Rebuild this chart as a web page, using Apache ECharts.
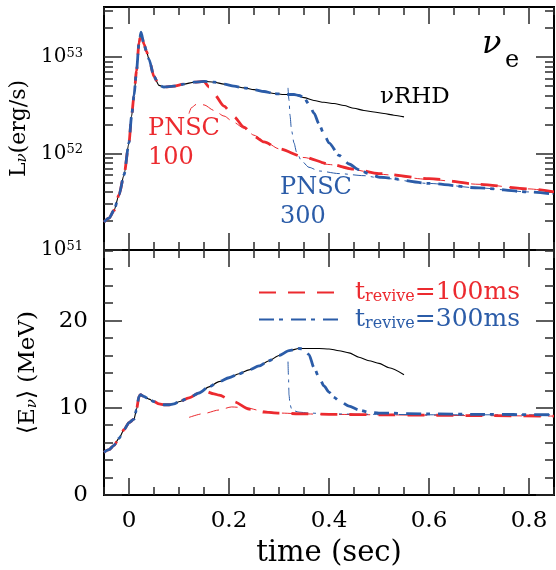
<!DOCTYPE html>
<html>
<head>
<meta charset="utf-8">
<script src="https://cdn.jsdelivr.net/npm/echarts@6/dist/echarts.min.js"></script>
<style>
  html, body { margin: 0; background: #fff; }
  #chart { width: 556px; height: 570px; }
</style>
</head>
<body>
<div id="chart"></div>
<script>
const RED = '#ec2a2f'
const BLUE = '#2b5ca8'
const serif = 'DejaVu Serif'

// axis ranges: top panel is log10(L), bottom panel is <E> in MeV
const LMIN = 51
const LMAX = 53.52
const EMIN = 0
const EMAX = 28.1

// tick / label values
const xLabels = [0, 0.2, 0.4, 0.6, 0.8]
const xMinor = [-0.05, 0, 0.05, 0.1, 0.15, 0.2, 0.25, 0.3, 0.35, 0.4, 0.45, 0.5, 0.55, 0.6, 0.65, 0.7, 0.75, 0.8, 0.85]
const lumDecades = [51, 52, 53]
const eLabels = [0, 10, 20]
const eMinor = [0, 2, 4, 6, 8, 10, 12, 14, 16, 18, 20, 22, 24, 26, 28]

// nuRHD luminosity (erg/s)
const tRhdL = [-0.05, -0.04, -0.03, -0.02, -0.01, 0, 0.005, 0.01, 0.015, 0.02, 0.024, 0.03, 0.035, 0.04, 0.05, 0.06, 0.07, 0.09, 0.11, 0.13, 0.15, 0.17, 0.19, 0.21, 0.23, 0.25, 0.27, 0.29, 0.31, 0.33, 0.35, 0.37, 0.39, 0.41, 0.43, 0.45, 0.47, 0.49, 0.51, 0.53, 0.55]
const lumRhd = [1.95e51, 2.14e51, 2.57e51, 3.72e51, 6.0e51, 1.3e52, 2.4e52, 4.0e52, 7.2e52, 1.4e53, 1.82e53, 1.36e53, 1.15e53, 9.5e52, 6.3e52, 5.1e52, 4.9e52, 5.0e52, 5.25e52, 5.5e52, 5.6e52, 5.5e52, 5.25e52, 5.0e52, 4.8e52, 4.6e52, 4.4e52, 4.2e52, 4.1e52, 4.1e52, 3.8e52, 3.55e52, 3.4e52, 3.3e52, 3.15e52, 2.95e52, 2.8e52, 2.7e52, 2.6e52, 2.5e52, 2.4e52]

// t_revive = 100 ms, after leaving nuRHD
const tR100L = [0.16, 0.17, 0.19, 0.21, 0.23, 0.25, 0.27, 0.30, 0.35, 0.40, 0.45, 0.50, 0.60, 0.70, 0.80, 0.85]
const lumR100 = [4.9e52, 4.15e52, 3.1e52, 2.4e52, 1.88e52, 1.51e52, 1.32e52, 1.12e52, 9.2e51, 7.8e51, 6.9e51, 6.2e51, 5.5e51, 4.8e51, 4.3e51, 4.0e51]
// PNSC 100
const tP100L = [0.12, 0.125, 0.135, 0.15, 0.17, 0.19, 0.21, 0.23, 0.25, 0.27, 0.30, 0.35, 0.40, 0.45, 0.50, 0.60, 0.70, 0.80, 0.85]
const lumP100 = [2.6e52, 3.0e52, 3.25e52, 3.2e52, 2.8e52, 2.45e52, 2.1e52, 1.83e52, 1.55e52, 1.35e52, 1.12e52, 9.1e51, 7.7e51, 6.8e51, 6.1e51, 5.4e51, 4.8e51, 4.3e51, 4.0e51]

// t_revive = 300 ms, after leaving nuRHD
const tR300L = [0.34, 0.35, 0.36, 0.37, 0.38, 0.39, 0.40, 0.42, 0.44, 0.46, 0.48, 0.50, 0.60, 0.70, 0.80, 0.85]
const lumR300 = [4.0e52, 3.8e52, 3.25e52, 2.63e52, 2.03e52, 1.59e52, 1.29e52, 9.6e51, 7.8e51, 6.8e51, 6.2e51, 5.7e51, 4.9e51, 4.4e51, 4.0e51, 3.8e51]
// PNSC 300
const tP300L = [0.318, 0.32, 0.322, 0.325, 0.33, 0.335, 0.345, 0.36, 0.38, 0.42, 0.47, 0.50, 0.60, 0.70, 0.80, 0.85]
const lumP300 = [4.8e52, 3.6e52, 2.5e52, 1.75e52, 1.29e52, 1.04e52, 8.4e51, 7.2e51, 6.6e51, 6.2e51, 5.9e51, 5.6e51, 4.9e51, 4.4e51, 4.0e51, 3.8e51]

// nuRHD mean energy (MeV)
const tRhdE = [-0.05, -0.04, -0.03, -0.02, -0.01, 0, 0.01, 0.015, 0.02, 0.023, 0.03, 0.04, 0.05, 0.06, 0.07, 0.08, 0.09, 0.10, 0.12, 0.14, 0.16, 0.18, 0.20, 0.22, 0.24, 0.26, 0.28, 0.30, 0.32, 0.34, 0.36, 0.38, 0.40, 0.42, 0.44, 0.46, 0.48, 0.50, 0.52, 0.55]
const eRhd = [4.9, 5.2, 5.7, 6.5, 7.5, 8.3, 8.7, 9.8, 11.3, 11.5, 11.3, 11.0, 10.7, 10.45, 10.35, 10.35, 10.45, 10.7, 11.15, 11.7, 12.4, 13.0, 13.45, 13.9, 14.35, 14.8, 15.4, 16.0, 16.55, 16.8, 16.8, 16.8, 16.75, 16.55, 16.3, 15.8, 15.4, 15.1, 14.6, 13.8]

const tR100E = [0.15, 0.17, 0.18, 0.21, 0.24, 0.27, 0.30, 0.35, 0.40, 0.50, 0.60, 0.70, 0.85]
const eR100 = [11.95, 11.6, 11.45, 10.7, 9.85, 9.5, 9.4, 9.3, 9.25, 9.2, 9.15, 9.1, 9.05]
const tP100E = [0.12, 0.15, 0.18, 0.205, 0.235, 0.265, 0.30, 0.35, 0.40, 0.50, 0.60, 0.70, 0.85]
const eP100 = [8.9, 9.35, 9.75, 10.1, 10.0, 9.65, 9.4, 9.3, 9.25, 9.2, 9.15, 9.1, 9.05]

const tR300E = [0.35, 0.36, 0.37, 0.38, 0.39, 0.40, 0.41, 0.42, 0.44, 0.46, 0.48, 0.50, 0.60, 0.70, 0.85]
const eR300 = [16.75, 16.1, 14.6, 13.5, 12.5, 11.8, 11.2, 10.8, 10.2, 9.75, 9.5, 9.4, 9.3, 9.25, 9.2]
const tP300E = [0.318, 0.319, 0.32, 0.322, 0.325, 0.33, 0.34, 0.36, 0.40, 0.50, 0.60, 0.85]
const eP300 = [15.3, 13.5, 11.5, 10.4, 9.9, 9.65, 9.5, 9.4, 9.3, 9.25, 9.2, 9.2]

const zip = (ts, vs) => ts.map((t, i) => [t, vs[i]])
const upTo = (ts, vs, tEnd) => zip(ts, vs).filter((p) => p[0] <= tEnd + 1e-9)
const toLog = (pts) => pts.map((p) => [p[0], Math.log10(p[1])])

// log minor ticks 2..9 in each decade
const lumMinor = []
lumDecades.forEach((d) => {
  for (let k = 2; k < 10; k++) {
    const v = d + Math.log10(k)
    if (v < LMAX) lumMinor.push(v)
  }
})

const tick = { color: '#2a2a2a', width: 1.5 }

const xAxisOf = (g, pos, ticks, len, withLabels) => {
  const ax = {
    type: 'value',
    gridIndex: g,
    position: pos,
    min: -0.05,
    max: 0.85,
    axisLine: { show: false, onZero: false },
    splitLine: { show: false },
    axisTick: { show: true, inside: true, length: len, customValues: ticks, lineStyle: tick },
    axisLabel: { show: false },
  }
  if (withLabels) {
    ax.axisLabel = {
      show: true,
      customValues: xLabels,
      margin: 15,
      fontFamily: serif,
      fontSize: 23,
      color: '#000',
      formatter: (v) => (v === 0 ? '0' : v.toFixed(1)),
    }
    ax.name = 'time (sec)'
    ax.nameLocation = 'middle'
    ax.nameGap = 44
    ax.nameTextStyle = { fontFamily: serif, fontSize: 29, color: '#000' }
  }
  return ax
}

const yAxisOf = (g, pos, min, max, ticks, len) => ({
  type: 'value',
  gridIndex: g,
  position: pos,
  min: min,
  max: max,
  axisLine: { show: false, onZero: false },
  splitLine: { show: false },
  axisTick: { show: true, inside: true, length: len, customValues: ticks, lineStyle: tick },
  axisLabel: { show: false },
})

const xAxes = []
const yAxes = []
;[0, 1].forEach((g) => {
  ;['bottom', 'top'].forEach((pos) => {
    xAxes.push(xAxisOf(g, pos, xLabels, 17, g === 1 && pos === 'bottom'))
    xAxes.push(xAxisOf(g, pos, xMinor, 8, false))
  })
})
;['left', 'right'].forEach((pos) => {
  yAxes.push(yAxisOf(0, pos, LMIN, LMAX, lumDecades, 18))
  yAxes.push(yAxisOf(0, pos, LMIN, LMAX, lumMinor, 9))
})
;['left', 'right'].forEach((pos) => {
  yAxes.push(yAxisOf(1, pos, EMIN, EMAX, eLabels, 18))
  yAxes.push(yAxisOf(1, pos, EMIN, EMAX, eMinor, 9))
})

// labels and names on the left axes
yAxes[0].axisLabel = {
  show: true,
  customValues: lumDecades,
  margin: 21,
  formatter: (v) => '{b|10}{s|' + Math.round(v) + '}',
  rich: {
    b: { fontFamily: serif, fontSize: 20, color: '#000' },
    s: { fontFamily: serif, fontSize: 13, color: '#000', verticalAlign: 'top' },
  },
}
yAxes[0].name = '{a|L}{s|ν}{a|(erg/s)}'
yAxes[0].nameLocation = 'middle'
yAxes[0].nameGap = 71
yAxes[0].nameTextStyle = {
  rich: {
    a: { fontFamily: serif, fontSize: 22, color: '#000' },
    s: { fontFamily: serif, fontSize: 15, color: '#000', fontStyle: 'italic', verticalAlign: 'bottom' },
  },
}
yAxes[4].axisLabel = {
  show: true,
  customValues: eLabels,
  margin: 16,
  fontFamily: serif,
  fontSize: 23,
  color: '#000',
}
yAxes[4].name = '{a|⟨E}{s|ν}{a|⟩ (MeV)}'
yAxes[4].nameLocation = 'middle'
yAxes[4].nameGap = 64
yAxes[4].nameTextStyle = {
  rich: {
    a: { fontFamily: serif, fontSize: 23, color: '#000' },
    s: { fontFamily: serif, fontSize: 15, color: '#000', fontStyle: 'italic', verticalAlign: 'bottom' },
  },
}

const line = (name, g, data, color, width, dash, z) => ({
  name: name,
  type: 'line',
  xAxisIndex: g * 4,
  yAxisIndex: g * 4,
  data: data,
  symbol: 'none',
  showSymbol: false,
  smooth: 0.25,
  smoothMonotone: 'x',
  silent: true,
  z: z,
  itemStyle: { color: color },
  lineStyle: { color: color, width: width, type: dash, cap: 'butt' },
})

const series = [
  line('rhd', 0, toLog(zip(tRhdL, lumRhd)), '#000', 1.1, 'solid', 2),
  line('p100', 0, toLog(zip(tP100L, lumP100)), RED, 1, [12, 7], 3),
  line('p300', 0, toLog(zip(tP300L, lumP300)), BLUE, 1, [13, 5, 3, 5], 3),
  line('r100', 0, toLog(upTo(tRhdL, lumRhd, 0.15).concat(zip(tR100L, lumR100))), RED, 2.8, [17, 12], 4),
  line('r300', 0, toLog(upTo(tRhdL, lumRhd, 0.33).concat(zip(tR300L, lumR300))), BLUE, 2.8, [15, 5, 4, 8], 5),

  line('rhd', 1, zip(tRhdE, eRhd), '#000', 1.1, 'solid', 2),
  line('p100', 1, zip(tP100E, eP100), RED, 1, [12, 7], 3),
  line('p300', 1, zip(tP300E, eP300), BLUE, 1, [13, 5, 3, 5], 3),
  line('r100', 1, upTo(tRhdE, eRhd, 0.14).concat(zip(tR100E, eR100)), RED, 2.8, [17, 12], 4),
  line('r300', 1, upTo(tRhdE, eRhd, 0.34).concat(zip(tR300E, eR300)), BLUE, 2.8, [15, 5, 4, 8], 5),
]

const gridStyle = {
  left: 104,
  right: 2,
  show: true,
  borderColor: '#000',
  borderWidth: 2,
  backgroundColor: 'transparent',
  containLabel: false,
  outerBoundsMode: 'none',
}

const chart = echarts.init(document.getElementById('chart'), null, { renderer: 'canvas' })
chart.setOption({
  animation: false,
  backgroundColor: '#fff',
  grid: [
    Object.assign({ top: 7, height: 243 }, gridStyle),
    Object.assign({ top: 250, height: 245 }, gridStyle),
  ],
  xAxis: xAxes,
  yAxis: yAxes,
  legend: {
    data: ['r100', 'r300'],
    orient: 'vertical',
    left: 253,
    top: 275,
    itemWidth: 82,
    itemHeight: 14,
    itemGap: 2,
    selectedMode: false,
    itemStyle: { opacity: 0, borderWidth: 0 },
    formatter: (n) => (n === 'r100' ? '{rt|t}{rs|revive}{rt|=100ms}' : '{bt|t}{bs|revive}{bt|=300ms}'),
    textStyle: {
      padding: [0, 0, 0, 9],
      rich: {
        rt: { fontFamily: serif, fontSize: 25, color: RED },
        rs: { fontFamily: serif, fontSize: 16, color: RED, verticalAlign: 'bottom' },
        bt: { fontFamily: serif, fontSize: 25, color: BLUE },
        bs: { fontFamily: serif, fontSize: 16, color: BLUE, verticalAlign: 'bottom' },
      },
    },
  },
  graphic: [
    { type: 'text', left: 482, top: 29, style: { text: 'ν', font: 'italic 32px "DejaVu Serif"', fill: '#000' } },
    { type: 'text', left: 505, top: 49, style: { text: 'e', font: '24px "DejaVu Serif"', fill: '#000' } },
    { type: 'text', left: 380, top: 86, style: { text: 'νRHD', font: '23px "DejaVu Serif"', fill: '#000' } },
    { type: 'text', left: 148, top: 114, style: { text: 'PNSC\n100', font: '24px "DejaVu Serif"', lineHeight: 29, fill: RED } },
    { type: 'text', left: 280, top: 173, style: { text: 'PNSC\n300', font: '24px "DejaVu Serif"', lineHeight: 29, fill: BLUE } },
  ],
  series: series,
})
</script>
</body>
</html>
